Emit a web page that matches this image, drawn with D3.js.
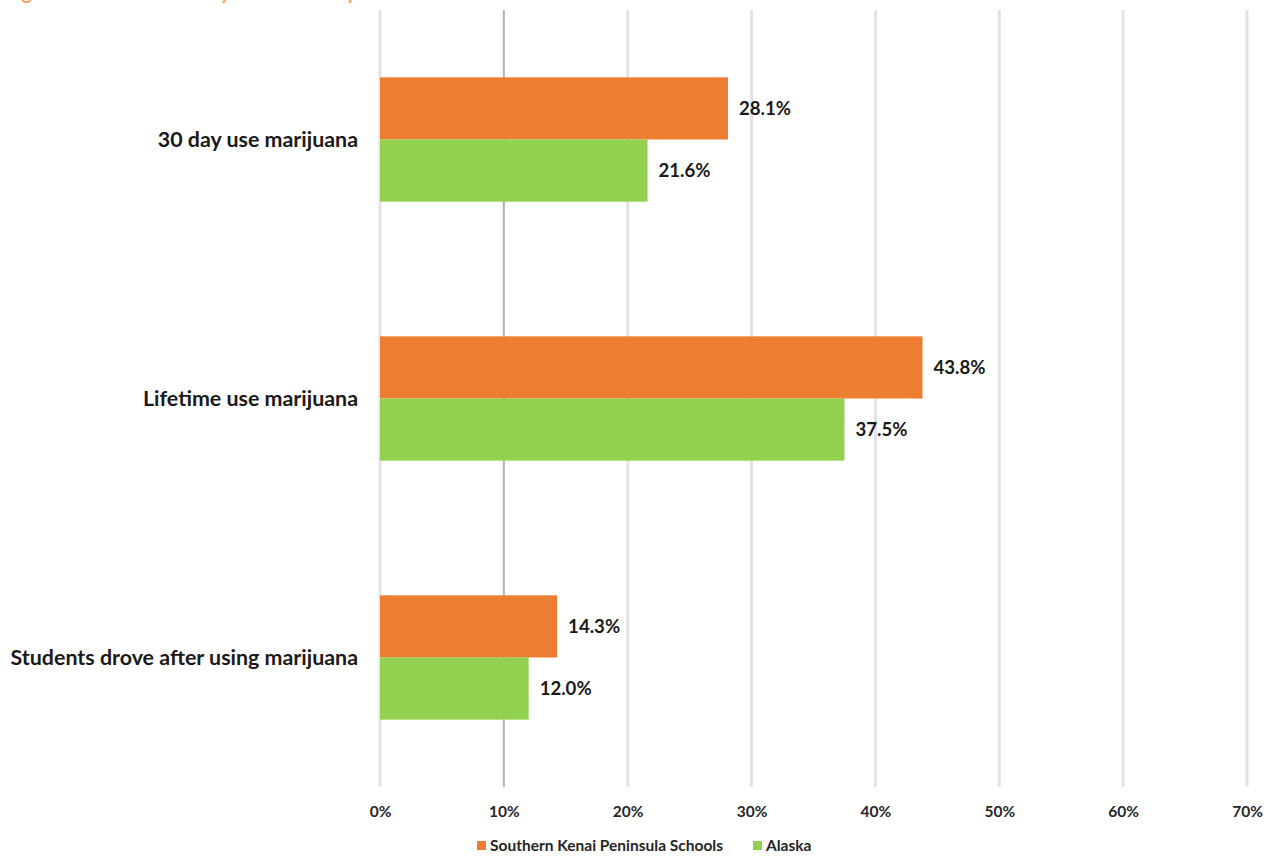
<!DOCTYPE html>
<html>
<head>
<meta charset="utf-8">
<script src="https://cdn.jsdelivr.net/npm/d3@7"></script>
<style>
  html, body { margin: 0; padding: 0; background: #fff; }
  svg { display: block; font-family: Lato, "Open Sans", sans-serif; }
</style>
</head>
<body>
<svg id="chart" width="1264" height="856"></svg>
<script>
// Marijuana use indicators, local schools vs. statewide
const categories = ["30 day use marijuana", "Lifetime use marijuana", "Students drove after using marijuana"];
const seriesNames = ["Southern Kenai Peninsula Schools", "Alaska"];
const kenaiValues = [28.1, 43.8, 14.3];
const alaskaValues = [21.6, 37.5, 12.0];
const tickValues = [0, 10, 20, 30, 40, 50, 60, 70];
const colors = ["#ed7d31", "#92d050"];
const titleText = "Figure 5. Cannabis use by school and by sex";

const W = 1264, H = 856;
const margin = { top: 10, right: 17, bottom: 69, left: 380 };
const innerW = W - margin.left - margin.right;
const innerH = H - margin.top - margin.bottom;

const svg = d3.select("#chart");

// Title sits above the top edge; only its descenders show
svg.append("text")
  .attr("x", 5)
  .attr("y", -1)
  .attr("fill", "#f2a463")
  .style("font-size", "20px")
  .style("font-weight", "bold")
  .text(titleText);

const g = svg.append("g").attr("transform", `translate(${margin.left},${margin.top})`);

const x = d3.scaleLinear().domain([0, 70]).range([0, innerW]);
const y = d3.scaleBand().domain(categories).range([0, innerH]).paddingInner(0.52).paddingOuter(0.26);
const ySub = d3.scaleBand().domain(seriesNames).range([0, y.bandwidth()]);

// Vertical gridlines
g.append("g")
  .selectAll("line")
  .data(tickValues)
  .join("line")
  .attr("x1", d => x(d)).attr("x2", d => x(d))
  .attr("y1", 0).attr("y2", innerH)
  .attr("stroke", d => d === 10 ? "#b4b4b4" : "#e3e3e3")
  .attr("stroke-width", d => d === 10 ? 2 : 3);

// Tick labels
const xAxis = d3.axisBottom(x).tickValues(tickValues).tickFormat(d => d + "%").tickSize(0).tickPadding(0);
const ax = g.append("g").attr("transform", `translate(0,${innerH + 25})`).call(xAxis);
ax.select(".domain").remove();
ax.selectAll("text")
  .attr("dy", "0.32em")
  .attr("fill", "#262626")
  .style("font-family", "Lato, 'Open Sans', sans-serif")
  .style("font-size", "15.5px")
  .style("font-weight", "bold");

// Category labels
g.append("g")
  .selectAll("text")
  .data(categories)
  .join("text")
  .attr("x", -22)
  .attr("y", d => y(d) + y.bandwidth() / 2)
  .attr("dy", "0.35em")
  .attr("text-anchor", "end")
  .attr("fill", "#1a1a1a")
  .style("font-size", "21.4px")
  .style("font-weight", "bold")
  .text(d => d);

// Bars
const rows = categories.map((c, i) => ({
  cat: c,
  vals: [
    { s: seriesNames[0], v: kenaiValues[i], c: colors[0] },
    { s: seriesNames[1], v: alaskaValues[i], c: colors[1] }
  ]
}));

const groups = g.append("g")
  .selectAll("g")
  .data(rows)
  .join("g")
  .attr("transform", d => `translate(0,${y(d.cat)})`);

groups.selectAll("rect")
  .data(d => d.vals)
  .join("rect")
  .attr("x", x(0))
  .attr("y", d => ySub(d.s))
  .attr("width", d => x(d.v) - x(0))
  .attr("height", ySub.bandwidth())
  .attr("fill", d => d.c);

groups.selectAll("text")
  .data(d => d.vals)
  .join("text")
  .attr("x", d => x(d.v) + 11)
  .attr("y", d => ySub(d.s) + ySub.bandwidth() / 2)
  .attr("dy", "0.35em")
  .attr("fill", "#1a1a1a")
  .style("font-size", "18.6px")
  .style("font-weight", "bold")
  .text(d => d.v.toFixed(1) + "%");

// Legend
const legend = svg.append("g").attr("transform", "translate(477,846)");
const items = [
  { name: seriesNames[0], color: colors[0], x: 0 },
  { name: seriesNames[1], color: colors[1], x: 276 }
];
const li = legend.selectAll("g").data(items).join("g").attr("transform", d => `translate(${d.x},0)`);
li.append("rect").attr("x", 0).attr("y", -5).attr("width", 9).attr("height", 9).attr("fill", d => d.color);
li.append("text")
  .attr("x", 13)
  .attr("y", 0)
  .attr("dy", "0.35em")
  .attr("fill", "#262626")
  .style("font-size", "15.5px")
  .style("font-weight", "bold")
  .text(d => d.name);
</script>
</body>
</html>
